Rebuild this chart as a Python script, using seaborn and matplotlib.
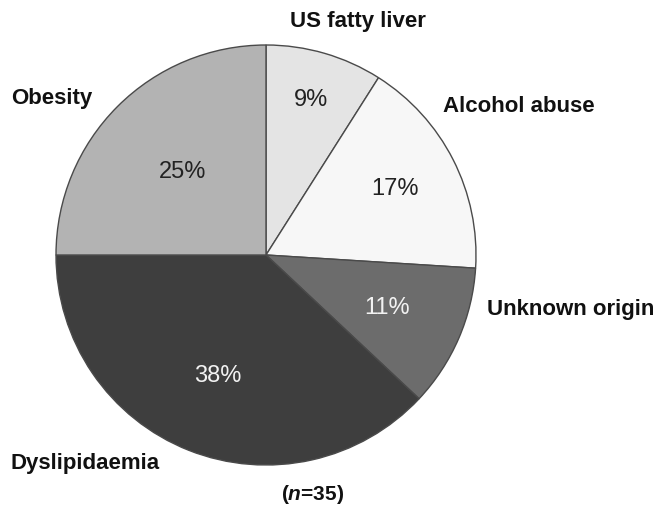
import matplotlib
matplotlib.use("Agg")
import matplotlib.pyplot as plt
import numpy as np
import seaborn as sns

sns.set_theme(style="white")
plt.rcParams["font.family"] = ["Liberation Sans", "DejaVu Sans"]
plt.rcParams["mathtext.fontset"] = "custom"
plt.rcParams["mathtext.it"] = "Liberation Sans:italic:bold"
plt.rcParams["mathtext.rm"] = "Liberation Sans:bold"

# Causes of raised liver enzymes, clockwise from 12 o'clock
categories = ["US fatty liver", "Alcohol abuse", "Unknown origin", "Dyslipidaemia", "Obesity"]
percent = [9, 17, 11, 38, 25]
pct_labels = ["9%", "17%", "11%", "38%", "25%"]
sample_note = r"($\it{n}$=35)"

# styling
shades = ["#e4e4e4", "#f7f7f7", "#6c6c6c", "#3e3e3e", "#b3b3b3"]
pct_colors = ["#222222", "#222222", "#f2f2f2", "#f2f2f2", "#222222"]
pct_radius = [0.77, 0.69, 0.63, 0.62, 0.56]

W, H = 662, 518
fig = plt.figure(figsize=(W / 100, H / 100), dpi=100)
fig.patch.set_facecolor("white")

cx, cy, r = 266, 255, 210
ax = fig.add_axes([(cx - r) / W, (H - cy - r) / H, 2 * r / W, 2 * r / H])
wedges, _ = ax.pie(
    percent,
    colors=shades,
    startangle=90,
    counterclock=False,
    radius=1.0,
    wedgeprops=dict(edgecolor="#4a4a4a", linewidth=1.0),
)
ax.set_xlim(-1, 1)
ax.set_ylim(-1, 1)
ax.set_aspect("equal")
ax.axis("off")

for w, lab, col, rr in zip(wedges, pct_labels, pct_colors, pct_radius):
    mid = np.deg2rad((w.theta1 + w.theta2) / 2)
    ax.text(rr * np.cos(mid), rr * np.sin(mid), lab, ha="center", va="center",
            fontsize=17, color=col)

# category names around the pie (pixel anchors)
outer = {
    "US fatty liver": (358, 22, "center"),
    "Alcohol abuse": (443, 106, "left"),
    "Obesity": (11, 98, "left"),
    "Unknown origin": (487, 309, "left"),
    "Dyslipidaemia": (11, 463, "left"),
}
for name in categories:
    x, y, ha = outer[name]
    fig.text(x / W, 1 - y / H, name, ha=ha, va="center", fontsize=16,
             fontweight="bold", color="#111111")

fig.text(313 / W, 1 - 495 / H, sample_note, ha="center", va="center",
         fontsize=15, fontweight="bold", color="#111111")

fig.savefig("out.png", dpi=100, facecolor="white")
